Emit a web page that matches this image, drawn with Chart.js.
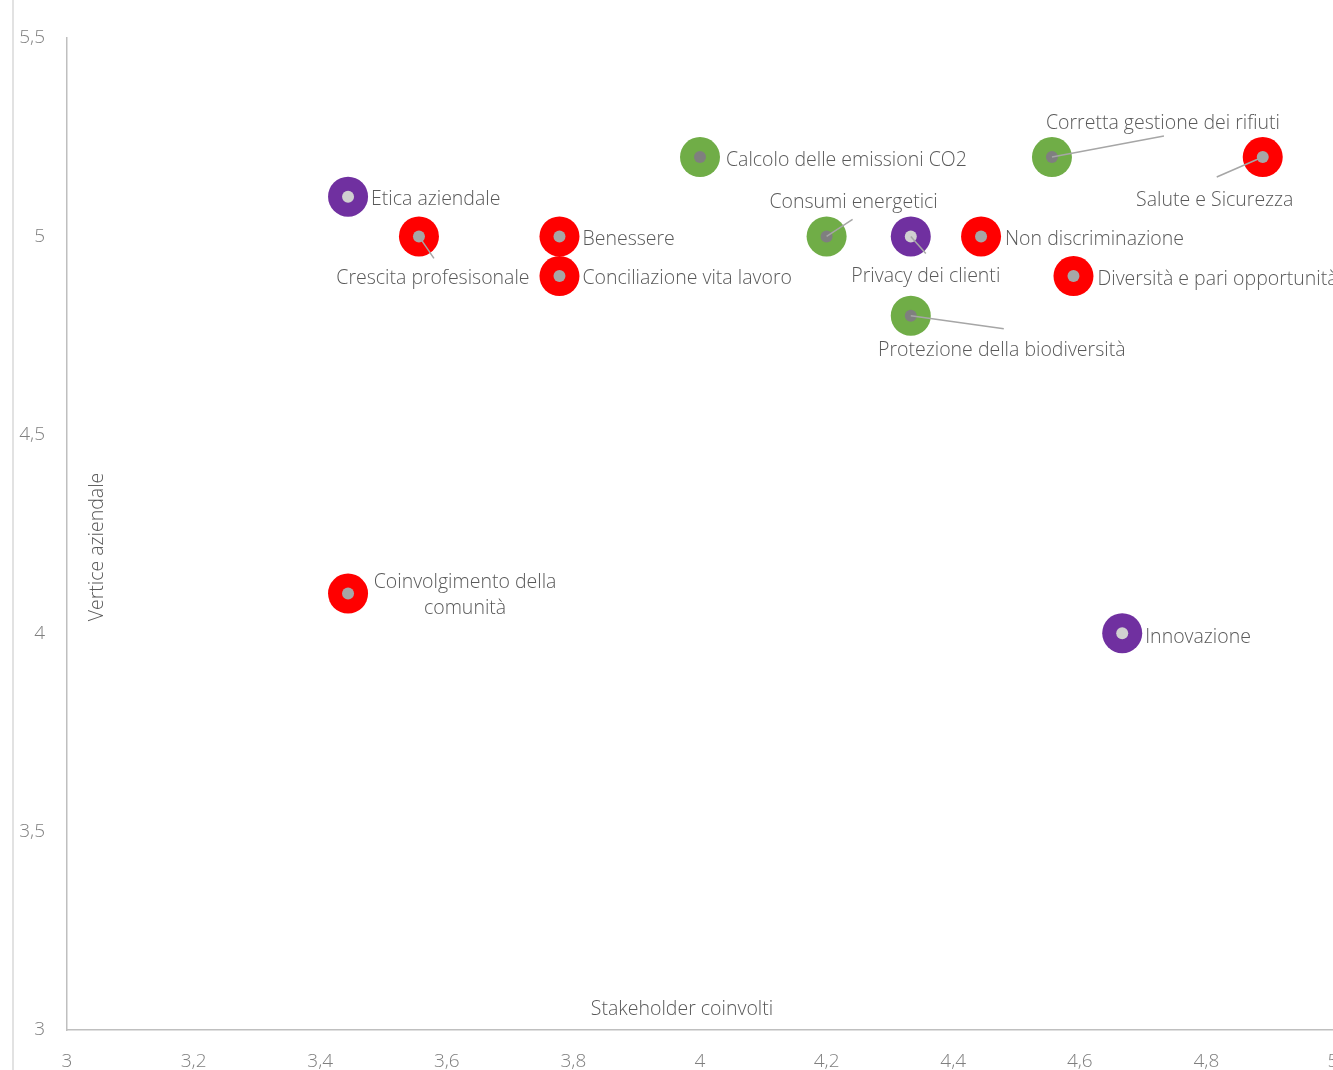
<!DOCTYPE html>
<html>
<head>
<meta charset="utf-8">
<script src="https://cdn.jsdelivr.net/npm/chart.js@4"></script>
<style>
html,body{margin:0;padding:0;background:#fff;overflow:hidden;}
canvas{display:block;}
</style>
</head>
<body>
<canvas id="c" width="1333" height="1070" style="width:1333px;height:1070px"></canvas>
<script>
// ---- data ----
const categories = [
  'Etica aziendale',
  'Crescita profesisonale',
  'Benessere',
  'Conciliazione vita lavoro',
  'Coinvolgimento della comunità',
  'Calcolo delle emissioni CO2',
  'Consumi energetici',
  'Privacy dei clienti',
  'Protezione della biodiversità',
  'Non discriminazione',
  'Diversità e pari opportunità',
  'Corretta gestione dei rifiuti',
  'Salute e Sicurezza',
  'Innovazione'
];
const stakeholderValues = [3.444, 3.556, 3.778, 3.778, 3.444, 4.0, 4.2, 4.333, 4.333, 4.444, 4.59, 4.556, 4.889, 4.667];
const vertexValues      = [5.1, 5.0, 5.0, 4.9, 4.1, 5.2, 5.0, 5.0, 4.8, 5.0, 4.9, 5.2, 5.2, 4.0];
const areas = ['G','S','S','S','S','E','E','G','E','S','S','E','S','G'];
const xTicks = [3, 3.2, 3.4, 3.6, 3.8, 4, 4.2, 4.4, 4.6, 4.8, 5];
const yTicks = [3, 3.5, 4, 4.5, 5, 5.5];
const xTitle = 'Stakeholder coinvolti';
const yTitle = 'Vertice aziendale';

// ---- styles ----
const outerColor = {E:'#70ad47', S:'#ff0000', G:'#7030a0'};
const innerColor = {E:'#7f7f7f', S:'#a6a6a6', G:'#d0d0d0'};
const textColor = '#595959';
const FONT = "'Open Sans', 'Noto Sans', sans-serif";

// label placement: [align, dx, dy, leaderEndDx, leaderEndDy]
const placement = {
  'Etica aziendale': ['left', 23, 2],
  'Crescita profesisonale': ['center', 14, 41, 15, 22],
  'Benessere': ['left', 23, 2],
  'Conciliazione vita lavoro': ['left', 23, 1],
  'Coinvolgimento della comunità': ['center', 117, -11],
  'Calcolo delle emissioni CO2': ['left', 26, 2],
  'Consumi energetici': ['center', 27, -35, 26, -17],
  'Privacy dei clienti': ['center', 15, 39, 15, 17],
  'Protezione della biodiversità': ['center', 91, 34, 93, 13],
  'Non discriminazione': ['left', 24, 2],
  'Diversità e pari opportunità': ['left', 24, 2],
  'Corretta gestione dei rifiuti': ['center', 111, -35, 112, -21],
  'Salute e Sicurezza': ['center', -48, 42, -46, 20],
  'Innovazione': ['left', 23, 3]
};

const pts = categories.map((n, i) => ({x: stakeholderValues[i], y: vertexValues[i]}));

const fmt = v => (Math.round(v * 10) / 10).toString().replace('.', ',');

const decorPlugin = {
  id: 'decor',
  beforeDraw(chart) {
    const ctx = chart.ctx;
    ctx.save();
    ctx.strokeStyle = '#d9d9d9';
    ctx.lineWidth = 1.5;
    ctx.beginPath();
    ctx.moveTo(13, 0);
    ctx.lineTo(13, chart.height);
    ctx.stroke();
    ctx.restore();
  },
  afterDatasetsDraw(chart) {
    const ctx = chart.ctx;
    const xs = chart.scales.x, ys = chart.scales.y;
    const ca = chart.chartArea;
    ctx.save();
    ctx.font = "300 19.5px " + FONT;
    ctx.fillStyle = textColor;
    ctx.textBaseline = 'middle';
    categories.forEach((name, i) => {
      const px = xs.getPixelForValue(stakeholderValues[i]);
      const py = ys.getPixelForValue(vertexValues[i]);
      const p = placement[name];
      if (p.length > 3) {
        ctx.strokeStyle = '#a6a6a6';
        ctx.lineWidth = 1.5;
        ctx.beginPath();
        ctx.moveTo(px, py);
        ctx.lineTo(px + p[3], py + p[4]);
        ctx.stroke();
      }
      ctx.textAlign = p[0];
      if (name === 'Coinvolgimento della comunità') {
        ctx.fillText('Coinvolgimento della', px + p[1], py + p[2]);
        ctx.fillText('comunità', px + p[1], py + p[2] + 26);
      } else {
        ctx.fillText(name, px + p[1], py + p[2] + 1);
      }
    });
    // axis titles inside plot area
    ctx.textAlign = 'center';
    ctx.fillText(xTitle, 682, ca.bottom - 21);
    ctx.translate(97, 547);
    ctx.rotate(-Math.PI / 2);
    ctx.fillText(yTitle, 0, 0);
    ctx.restore();
  }
};

new Chart(document.getElementById('c'), {
  type: 'scatter',
  data: {
    datasets: [
      {
        data: pts,
        backgroundColor: areas.map(a => innerColor[a]),
        borderWidth: 0,
        pointRadius: 6,
        pointHoverRadius: 6,
        clip: false
      },
      {
        data: pts,
        backgroundColor: areas.map(a => outerColor[a]),
        borderWidth: 0,
        pointRadius: 20,
        pointHoverRadius: 20,
        clip: false
      }
    ]
  },
  options: {
    responsive: false,
    devicePixelRatio: 1,
    animation: false,
    layout: {autoPadding: false, padding: {top: 38, left: 0, right: 0, bottom: 0}},
    plugins: {legend: {display: false}, tooltip: {enabled: false}},
    scales: {
      x: {
        type: 'linear', min: 3, max: 5,
        afterBuildTicks: s => { s.ticks = xTicks.map(v => ({value: v})); },
        afterFit: s => { s.height = 40; s.paddingLeft = 0; s.paddingRight = 0; },
        grid: {display: false, drawTicks: false},
        border: {display: true, color: '#bfbfbf', width: 1.5},
        ticks: {
          callback: v => fmt(v), color: '#7f7f7f', padding: 20,
          font: {family: FONT, size: 19, weight: '300'}, maxRotation: 0, autoSkip: false
        }
      },
      y: {
        type: 'linear', min: 3, max: 5.5,
        afterBuildTicks: s => { s.ticks = yTicks.map(v => ({value: v})); },
        afterFit: s => { s.width = 67; s.paddingTop = 0; s.paddingBottom = 0; },
        grid: {display: false, drawTicks: false},
        border: {display: true, color: '#bfbfbf', width: 1.5},
        ticks: {
          callback: v => fmt(v), color: '#7f7f7f', padding: 22,
          font: {family: FONT, size: 19, weight: '300'}, autoSkip: false
        }
      }
    }
  },
  plugins: [decorPlugin]
});
</script>
</body>
</html>
